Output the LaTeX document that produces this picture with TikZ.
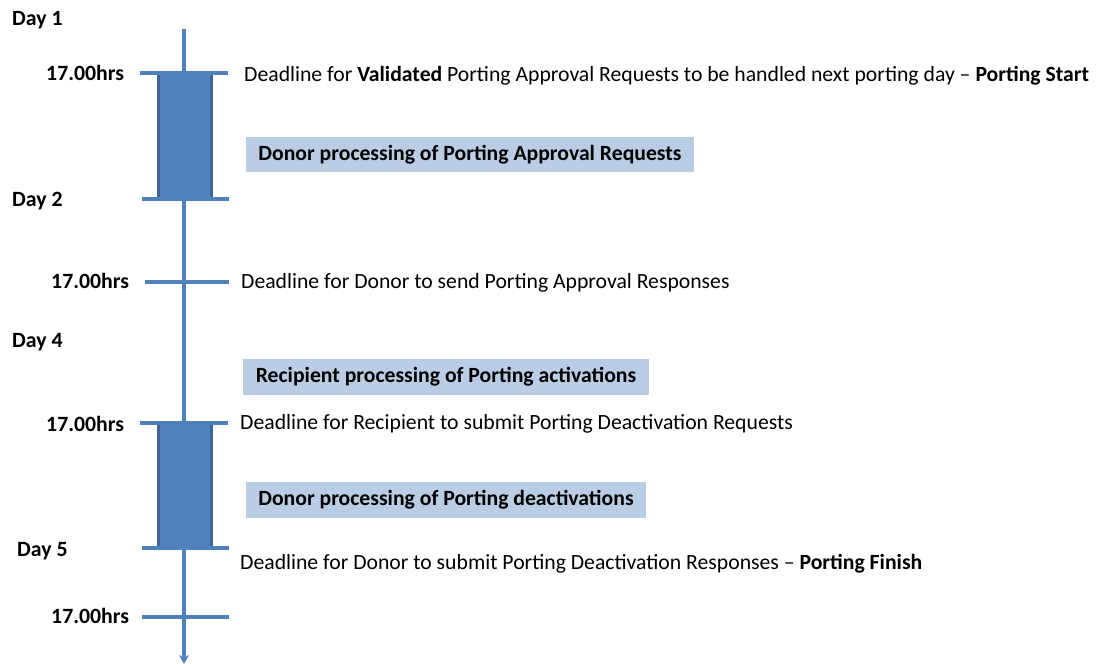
\documentclass[tikz,border=0pt]{standalone}
\usepackage{fontspec}
\setmainfont{Carlito}
\usetikzlibrary{arrows.meta}
\definecolor{axisblue}{HTML}{4F81BD}
\definecolor{boxedge}{HTML}{3E6595}
\definecolor{lightbox}{HTML}{B9CDE5}
\begin{document}
\begin{tikzpicture}[x=1pt,y=-1pt,
  axis/.style={draw=axisblue,line width=3.2pt},
  tick/.style={draw=axisblue,line width=3.2pt},
  bar/.style={fill=axisblue,draw=boxedge,line width=3pt},
  lbl/.style={anchor=base west,inner sep=0pt,font=\fontsize{21.8}{26}\selectfont\bfseries},
  txt/.style={anchor=base west,inner sep=0pt,font=\fontsize{21.7}{26}\selectfont},
  phase/.style={fill=lightbox,inner sep=0pt,font=\fontsize{21.7}{26}\selectfont\bfseries,text=black}]
\useasboundingbox (0,0) rectangle (1097,664);
% axis
\coordinate (top) at (184,29);
\coordinate (bottom) at (184,664);
% bars
\draw[bar] (158,73) rectangle (211,199);
\draw[bar] (158,423) rectangle (211,548);
\draw[axis,-{Stealth[length=9pt,width=10pt]}] (top) -- (bottom);
% ticks
\coordinate (t1a) at (140,73);  \coordinate (t1b) at (228,73);
\coordinate (t2a) at (142,199); \coordinate (t2b) at (229,199);
\coordinate (t3a) at (145,282); \coordinate (t3b) at (229,282);
\coordinate (t4a) at (140,423); \coordinate (t4b) at (228,423);
\coordinate (t5a) at (142,548); \coordinate (t5b) at (229,548);
\coordinate (t6a) at (142,617); \coordinate (t6b) at (229,617);
\draw[tick] (t1a) -- (t1b);
\draw[tick] (t2a) -- (t2b);
\draw[tick] (t3a) -- (t3b);
\draw[tick] (t4a) -- (t4b);
\draw[tick] (t5a) -- (t5b);
\draw[tick] (t6a) -- (t6b);
% left labels
\node[lbl] (d1) at (12,25) {Day 1};
\node[lbl] (h1) at (46,80) {17.00hrs};
\node[lbl] (d2) at (12,206) {Day 2};
\node[lbl] (h2) at (51,288) {17.00hrs};
\node[lbl] (d4) at (12,347) {Day 4};
\node[lbl] (h4) at (46,431) {17.00hrs};
\node[lbl] (d5) at (17,556) {Day 5};
\node[lbl] (h6) at (51,623) {17.00hrs};
% right texts
\node[txt] (e1) at (244,81) {Deadline for \textbf{Validated} Porting Approval Requests to be handled next porting day -- \textbf{Porting Start}};
\node[txt] (e2) at (241,288) {Deadline for Donor to send Porting Approval Responses};
\node[txt] (e3) at (240,429) {Deadline for Recipient to submit Porting Deactivation Requests};
\node[txt] (e4) at (240,569) {Deadline for Donor to submit Porting Deactivation Responses -- \textbf{Porting Finish}};
% phase boxes
\node[phase,minimum width=448pt,minimum height=35pt] (p1) at (470,154.5) {Donor processing of Porting Approval Requests};
\node[phase,minimum width=406pt,minimum height=36pt] (p2) at (446,377) {Recipient processing of Porting activations};
\node[phase,minimum width=400pt,minimum height=36pt] (p3) at (446,500) {Donor processing of Porting deactivations};
\end{tikzpicture}
\end{document}
